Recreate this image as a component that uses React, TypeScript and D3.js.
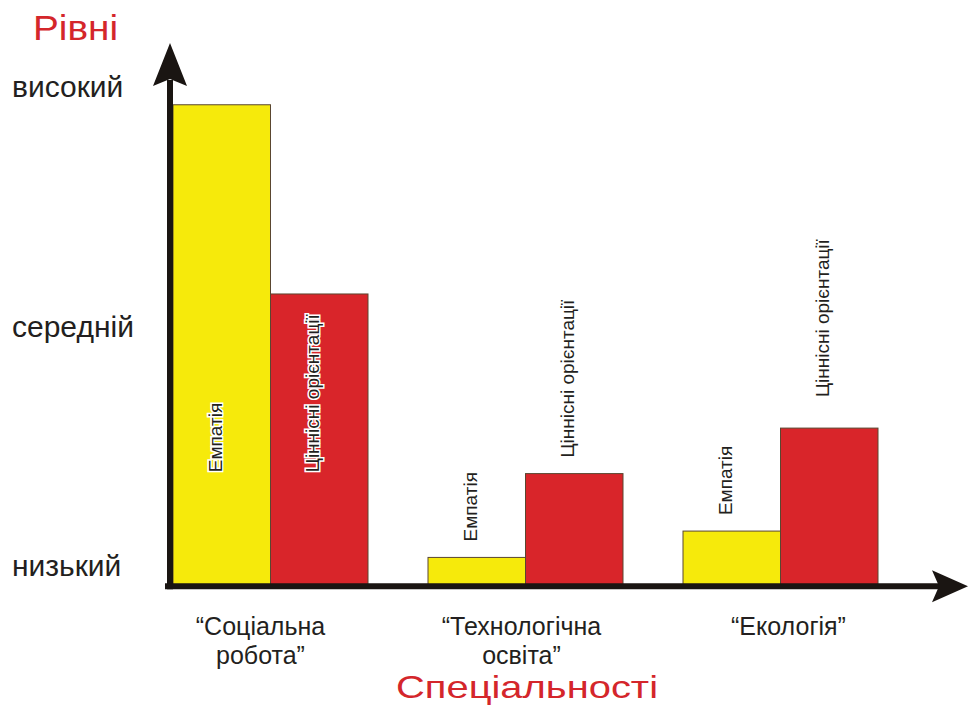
import { useEffect, useRef } from "react"
import * as d3 from "d3"

// дані (рівні: 1 = низький, 2 = середній, 3 = високий)
const specialties = ["Соціальна робота", "Технологічна освіта", "Екологія"]
const specialtyLines = [["“Соціальна", "робота”"], ["“Технологічна", "освіта”"], ["“Екологія”"]]
const seriesNames = ["Емпатія", "Ціннісні орієнтації"]
const empathy = [2.93, 1.04, 1.15]
const valueOrient = [2.14, 1.39, 1.58]
const levelValues = [1, 2, 3]
const levelLabels = ["низький", "середній", "високий"]

const W = 968, H = 705
const yellow = "#f6ea0b", red = "#d9252a", ink = "#231f20", titleRed = "#d4262b"
const font = "'Liberation Sans', Arial, sans-serif"

export default function App() {
    const ref = useRef<SVGSVGElement>(null)

    useEffect(() => {
        const svg = d3.select(ref.current)
        svg.selectAll("*").remove()

        const axisX = 170
        const base = 0.92

        const y = d3.scaleLinear().domain([1, 3]).range([567, 88])
        const x0 = d3.scaleBand().domain(specialties).range([173, 878]).paddingInner(60 / 255)
        const x1 = d3.scaleBand().domain(seriesNames).range([0, x0.bandwidth()])
        const color = d3.scaleOrdinal<string>().domain(seriesNames).range([yellow, red])

        const rows = specialties.map((s, i) => ({ s, vals: [empathy[i], valueOrient[i]] }))

        // стовпці
        const groups = svg.append("g").selectAll("g")
            .data(rows)
            .join("g")
            .attr("transform", (d) => `translate(${x0(d.s)},0)`)

        groups.selectAll("rect")
            .data((d) => d.vals.map((v, j) => ({ v, name: seriesNames[j] })))
            .join("rect")
            .attr("x", (d) => x1(d.name)!)
            .attr("y", (d) => y(d.v))
            .attr("width", x1.bandwidth())
            .attr("height", (d) => y(base) - y(d.v))
            .attr("fill", (d) => color(d.name))
            .attr("stroke", "#5a4630")
            .attr("stroke-width", 1)

        // підписи стовпців (вертикальні)
        groups.selectAll("text")
            .data((d, gi) => d.vals.map((v, j) => ({ v, name: seriesNames[j], gi, j })))
            .join("text")
            .attr("transform", (d) => {
                const cx = x1(d.name)! + x1.bandwidth() / 2
                const inside = d.v > 2
                const gap = d.gi === 2 && d.j === 1 ? 31 : 16
                const ys = inside ? y(base) - 114 : y(d.v) - gap
                return `translate(${cx},${ys}) rotate(-90)`
            })
            .attr("text-anchor", "start")
            .attr("font-family", font)
            .attr("font-size", 19)
            .attr("fill", ink)
            .attr("stroke", (d) => (d.v > 2 ? "white" : "none"))
            .attr("stroke-width", 3)
            .attr("paint-order", "stroke")
            .text((d) => d.name)

        // осі зі стрілками
        svg.append("line")
            .attr("x1", axisX).attr("x2", axisX)
            .attr("y1", y(base) + 3).attr("y2", 80)
            .attr("stroke", "#1a1512").attr("stroke-width", 6)
        svg.append("path")
            .attr("d", `M${axisX},43 L${axisX + 17},86 L${axisX},79 L${axisX - 17},86 Z`)
            .attr("fill", "#1a1512")

        svg.append("line")
            .attr("x1", axisX - 5).attr("x2", 940)
            .attr("y1", y(base)).attr("y2", y(base))
            .attr("stroke", "#1a1512").attr("stroke-width", 6)
        svg.append("path")
            .attr("d", `M968,${y(base)} L932,${y(base) - 16} L939,${y(base)} L932,${y(base) + 16} Z`)
            .attr("fill", "#1a1512")

        // рівні
        svg.append("g").selectAll("text")
            .data(levelValues)
            .join("text")
            .attr("x", 12)
            .attr("y", (d) => y(d) + 9)
            .attr("font-family", font)
            .attr("font-size", 30)
            .attr("fill", ink)
            .text((d, i) => levelLabels[i])

        // спеціальності
        const cat = svg.append("g").selectAll("text")
            .data(specialties)
            .join("text")
            .attr("x", (d, i) => x0(d)! + x0.bandwidth() / 2 + [-10, -4, 8][i])
            .attr("y", 635)
            .attr("text-anchor", "middle")
            .attr("font-family", font)
            .attr("font-size", 25)
            .attr("fill", ink)

        cat.selectAll("tspan")
            .data((d, i) => specialtyLines[i])
            .join("tspan")
            .attr("x", function () { return (this.parentNode as SVGTextElement).getAttribute("x") })
            .attr("dy", (d, i) => (i === 0 ? 0 : 29))
            .text((d) => d)

        // заголовки осей
        svg.append("text")
            .attr("x", 33).attr("y", 40)
            .attr("font-family", font).attr("font-size", 35)
            .attr("textLength", 85).attr("lengthAdjust", "spacingAndGlyphs")
            .attr("fill", titleRed)
            .text("Рівні")

        svg.append("text")
            .attr("x", 396).attr("y", 698)
            .attr("font-family", font).attr("font-size", 32)
            .attr("textLength", 262).attr("lengthAdjust", "spacingAndGlyphs")
            .attr("fill", titleRed)
            .text("Спеціальності")
    }, [])

    return (
        <svg ref={ref} width={W} height={H}
            style={{ position: "absolute", left: 0, top: 0, background: "white" }} />
    )
}
